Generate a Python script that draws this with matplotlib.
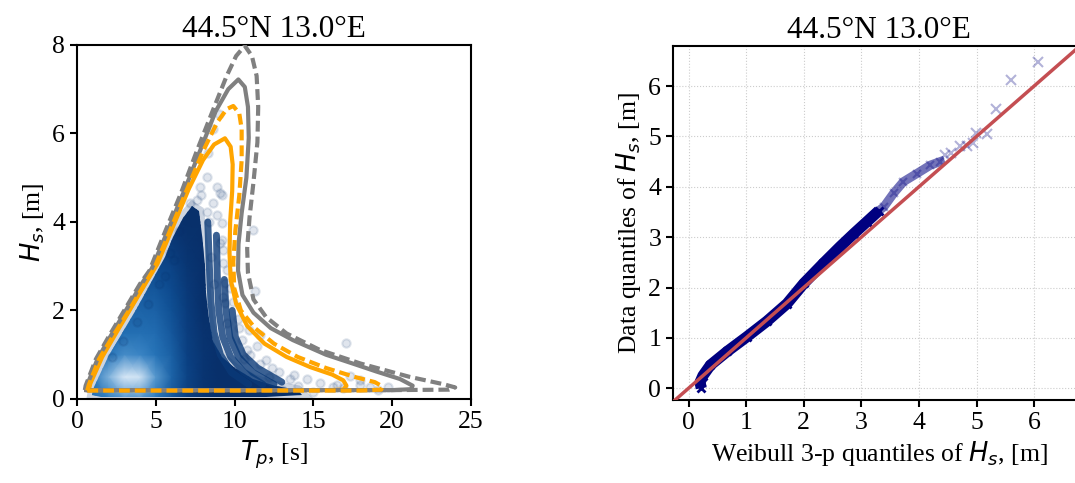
import matplotlib
matplotlib.use("Agg")
import matplotlib.pyplot as plt
from matplotlib.colors import LinearSegmentedColormap
from matplotlib.patches import Polygon
import numpy as np

plt.rcParams['font.family'] = ['Liberation Serif', 'DejaVu Serif']
plt.rcParams['mathtext.fontset'] = 'dejavusans'
plt.rcParams['axes.linewidth'] = 1.5

# --- left panel: environmental contours (Tp, Hs) ---
gd_tp = [0.5, 0.55, 1.2, 2.0, 3.0, 4.0, 4.6, 5.5, 6.6, 7.6, 8.6, 9.5, 10.1, 10.65,
         11.1, 11.4, 11.5, 11.45, 11.2, 10.95, 10.8, 10.85, 11.2, 12.0, 13.3, 15.4,
         18.0, 21.1, 23.3, 24.0, 23.6, 20.0, 10.0, 0.5]
gd_hs = [0.2, 0.3, 0.9, 1.4, 2.0, 2.6, 2.9, 3.7, 4.65, 5.6, 6.5, 7.3, 7.75, 7.98,
         7.75, 7.3, 6.6, 5.8, 4.9, 4.1, 3.4, 2.85, 2.25, 1.85, 1.48, 1.11,
         0.80, 0.50, 0.33, 0.26, 0.21, 0.2, 0.2, 0.2]

gs_tp = [0.6, 0.65, 1.3, 2.1, 3.1, 4.1, 4.75, 5.7, 6.8, 7.8, 8.8, 9.6, 10.24,
         10.65, 10.85, 10.9, 10.75, 10.45, 10.25, 10.22, 10.5, 11.2, 12.3, 13.7,
         15.8, 17.5, 19.0, 20.5, 21.3, 21.2, 20.0, 0.6]
gs_hs = [0.2, 0.32, 0.9, 1.4, 2.0, 2.6, 2.95, 3.75, 4.7, 5.6, 6.5, 7.0, 7.22,
         7.05, 6.6, 5.9, 5.0, 4.2, 3.5, 2.9, 2.35, 1.95, 1.6, 1.33,
         1.0, 0.8, 0.62, 0.45, 0.3, 0.22, 0.2, 0.2]

od_tp = [0.65, 0.75, 1.4, 2.25, 3.3, 4.3, 4.9, 5.9, 7.0, 8.0, 8.9, 9.5, 9.92,
         10.3, 10.45, 10.45, 10.3, 10.05, 9.92, 9.98, 10.4, 11.3, 12.5, 14.0,
         15.8, 17.6, 18.9, 19.4, 19.3, 18.0, 0.65]
od_hs = [0.19, 0.32, 0.9, 1.4, 2.0, 2.6, 2.95, 3.8, 4.75, 5.6, 6.25, 6.55, 6.62,
         6.45, 6.1, 5.4, 4.6, 3.8, 3.1, 2.5, 2.0, 1.6, 1.25, 0.95,
         0.7, 0.5, 0.38, 0.28, 0.21, 0.19, 0.19]

os_tp = [0.75, 0.85, 1.6, 2.5, 3.5, 4.5, 5.1, 6.1, 7.1, 8.0, 8.7, 9.39,
         9.75, 9.88, 9.85, 9.72, 9.68, 9.75, 10.1, 10.8, 11.9, 13.3, 14.8,
         16.2, 16.9, 17.1, 16.9, 16.0, 0.75]
os_hs = [0.2, 0.35, 0.95, 1.5, 2.1, 2.7, 3.05, 3.9, 4.75, 5.4, 5.75, 5.89,
         5.7, 5.3, 4.7, 4.0, 3.3, 2.7, 2.15, 1.65, 1.25, 0.95, 0.72,
         0.55, 0.42, 0.3, 0.21, 0.2, 0.2]

# outline of the dense part of the scatter cloud
body_tp = [0.95, 1.05, 1.5, 2.0, 2.8, 3.8, 4.9, 5.6, 6.1, 6.7, 7.3, 7.75, 7.95,
           8.1, 8.2, 8.35, 8.65, 9.2, 10.0, 11.2, 12.6, 14.0, 14.3, 12.0, 8.0,
           4.0, 1.5]
body_hs = [0.08, 0.28, 0.62, 0.95, 1.45, 2.05, 2.75, 3.2, 3.65, 4.1, 4.35, 4.25,
           3.7, 3.0, 2.4, 1.8, 1.3, 0.95, 0.7, 0.45, 0.3, 0.2, 0.1, 0.05, 0.04,
           0.05, 0.05]

# lightness of the cloud colour (density), rows = Hs, columns = Tp
grid_tp = [0, 1, 2, 3, 4, 5, 6, 7, 8, 9, 10, 15]
grid_hs = [0, 0.5, 1.0, 1.5, 2.0, 2.5, 3.0, 3.5, 4.0, 4.5]
grid_val = [
    [0.35, 0.42, 0.50, 0.57, 0.57, 0.47, 0.32, 0.15, 0.05, 0.0, 0.0, 0.0],
    [0.38, 0.48, 0.65, 0.90, 0.86, 0.58, 0.38, 0.18, 0.05, 0.0, 0.0, 0.0],
    [0.33, 0.40, 0.47, 0.55, 0.53, 0.46, 0.36, 0.16, 0.05, 0.0, 0.0, 0.0],
    [0.28, 0.33, 0.38, 0.43, 0.44, 0.42, 0.32, 0.14, 0.03, 0.0, 0.0, 0.0],
    [0.22, 0.27, 0.32, 0.37, 0.38, 0.37, 0.28, 0.12, 0.0, 0.0, 0.0, 0.0],
    [0.18, 0.22, 0.27, 0.31, 0.32, 0.31, 0.24, 0.09, 0.0, 0.0, 0.0, 0.0],
    [0.12, 0.14, 0.18, 0.23, 0.24, 0.24, 0.18, 0.06, 0.0, 0.0, 0.0, 0.0],
    [0.0, 0.0, 0.08, 0.12, 0.13, 0.13, 0.10, 0.03, 0.0, 0.0, 0.0, 0.0],
    [0.0, 0.0, 0.0, 0.0, 0.0, 0.05, 0.03, 0.0, 0.0, 0.0, 0.0, 0.0],
    [0.0, 0.0, 0.0, 0.0, 0.0, 0.0, 0.0, 0.0, 0.0, 0.0, 0.0, 0.0],
]

# streaks right of the dense part (discrete Tp bins)
streak1_tp = [8.3, 8.4, 8.5, 8.7, 9.1, 9.8, 10.9]
streak1_hs = [4.0, 3.0, 2.2, 1.5, 1.0, 0.6, 0.33]
streak2_tp = [8.85, 8.9, 9.0, 9.25, 9.75, 10.6, 11.8]
streak2_hs = [3.7, 2.8, 2.0, 1.4, 0.95, 0.6, 0.33]
streak3_tp = [9.35, 9.45, 9.7, 10.25, 11.15, 12.5]
streak3_hs = [2.7, 2.0, 1.4, 0.95, 0.6, 0.33]
streak4_tp = [9.85, 10.05, 10.55, 11.45, 13.0]
streak4_hs = [2.0, 1.4, 1.0, 0.7, 0.38]

# isolated sea states
pts_tp = [8.23, 8.86, 9.18, 8.65, 8.23, 8.86, 9.18, 9.07, 9.28, 9.28, 9.50, 9.39,
          9.28, 9.39, 11.3, 11.19, 17.1, 11.6, 12.0, 14.6, 15.4, 16.5, 17.96, 9.5,
          10.45, 10.77, 11.6, 7.82, 7.19, 6.98, 6.13, 5.6, 9.09, 9.2, 17.3, 17.95,
          18.6, 19.1, 19.75, 16.26, 16.9, 12.8, 13.5, 11.0, 10.2, 9.9, 8.5, 8.7,
          7.9, 7.6, 8.4, 10.6, 13.0, 14.0, 15.0, 12.2, 9.0, 8.6, 8.3, 5.2, 4.5,
          3.8, 2.9, 2.2, 5.9, 6.5, 10.9, 11.4, 12.4, 13.8, 9.7, 10.3]
pts_hs = [5.02, 4.80, 4.61, 4.42, 4.23, 4.16, 3.97, 3.52, 3.37, 3.07, 2.92, 2.62,
          2.31, 2.16, 2.43, 3.82, 1.26, 1.44, 0.88, 0.46, 0.35, 0.32, 0.32, 1.71,
          1.33, 1.11, 0.80, 4.8, 4.42, 4.05, 3.14, 2.77, 4.65, 3.59, 0.51, 0.43,
          0.28, 0.2, 0.28, 0.28, 0.24, 0.6, 0.45, 1.0, 1.8, 2.2, 3.2, 2.6,
          4.6, 4.5, 4.0, 0.9, 0.2, 0.3, 0.15, 0.5, 6.45, 6.1, 5.55, 2.6, 2.15,
          1.75, 1.3, 0.95, 3.3, 3.8, 1.55, 1.2, 0.7, 0.55, 2.5, 1.6]

# --- right panel: QQ plot, Weibull 3-p quantiles vs data quantiles ---
qq_theo = [0.22, 0.20, 0.25, 0.38, 0.67, 1.01, 1.36, 1.71, 2.00, 2.34, 2.63, 2.87, 3.10, 3.30]
qq_data = [0.00, 0.12, 0.25, 0.46, 0.73, 1.02, 1.33, 1.68, 2.08, 2.48, 2.81, 3.07, 3.31, 3.52]
qq_up_theo = [3.30, 3.39, 3.56, 3.73, 3.96, 4.20, 4.37]
qq_up_data = [3.52, 3.60, 3.87, 4.10, 4.26, 4.43, 4.50]
qq_tail_theo = [4.46, 4.55, 4.72, 4.83, 4.94, 4.99, 5.18, 5.34, 5.60, 6.07]
qq_tail_data = [4.64, 4.68, 4.80, 4.80, 4.86, 5.07, 5.05, 5.55, 6.12, 6.47]

title = '44.5°N 13.0°E'

fig = plt.figure(figsize=(10.75, 4.83), dpi=100)
ax1 = fig.add_axes([0.0716, 0.174, 0.3665, 0.733])
ax2 = fig.add_axes([0.626, 0.172, 0.3835, 0.733])

# cloud body with density shading
cmap = LinearSegmentedColormap.from_list(
    'cloud', ['#08306b', '#0d4a8f', '#2b7bbf', '#b5d4ee', '#eef5fc'])
body = Polygon(np.column_stack([body_tp, body_hs]), closed=True,
               facecolor='none', edgecolor='#08306b', lw=7, alpha=0.2, zorder=1)
ax1.add_patch(body)
mesh = ax1.pcolormesh(grid_tp, grid_hs, np.array(grid_val), cmap=cmap,
                      vmin=0, vmax=1, shading='gouraud', zorder=1)
mesh.set_clip_path(body)

for stp, shs in [(streak1_tp, streak1_hs), (streak2_tp, streak2_hs),
                 (streak3_tp, streak3_hs), (streak4_tp, streak4_hs)]:
    ax1.plot(stp, shs, color='#0a3a78', lw=5, alpha=0.8,
             solid_capstyle='round', zorder=1)

ax1.scatter(pts_tp, pts_hs, s=36, color='#08306b', alpha=0.12,
            linewidths=1.5, zorder=2)

dash = (0, (2.6, 1.2))
ax1.plot(os_tp, os_hs, color='orange', lw=3, zorder=3)
ax1.plot(gs_tp, gs_hs, color='gray', lw=3, zorder=3)
ax1.plot(gd_tp, gd_hs, color='gray', lw=3, ls=dash, zorder=3)
ax1.plot(od_tp, od_hs, color='orange', lw=3, ls=dash, zorder=3)

ax1.set_xlim(0, 25)
ax1.set_ylim(0, 8)
ax1.set_xticks([0, 5, 10, 15, 20, 25])
ax1.set_yticks([0, 2, 4, 6, 8])
ax1.set_xlabel('$T_p$, [s]', fontsize=18.5)
ax1.set_ylabel('$H_s$, [m]', fontsize=18.5)
ax1.set_title(title, fontsize=22.5)

# QQ panel
ax2.grid(True, ls=':', color='#cccccc', lw=0.8)
ax2.set_axisbelow(True)
ax2.plot(qq_theo, qq_data, color='navy', lw=8, solid_capstyle='butt', zorder=2)
ax2.plot(qq_theo, qq_data, 'x', color='navy', ms=6, mew=2, zorder=2)
ax2.plot(qq_up_theo, qq_up_data, color='navy', lw=6.5, alpha=0.55, zorder=2)
ax2.plot(qq_up_theo, qq_up_data, 'x', color='navy', ms=6, mew=1.5, alpha=0.3, zorder=2)
ax2.plot(qq_tail_theo, qq_tail_data, 'x', color='navy', ms=7, mew=1.5,
         alpha=0.3, zorder=2)
ax2.axline((0, 0), (1, 1), color='#c44e52', lw=2.5, zorder=3)

ax2.set_xlim(-0.271, 6.887)
ax2.set_ylim(-0.232, 6.797)
ax2.set_xticks(range(7))
ax2.set_yticks(range(7))
ax2.spines['right'].set_visible(False)
ax2.set_xlabel('Weibull 3-p quantiles of $H_s$, [m]', fontsize=18.5)
ax2.set_ylabel('Data quantiles of $H_s$, [m]', fontsize=18.5)
ax2.set_title(title, fontsize=22.5)

for ax in (ax1, ax2):
    ax.tick_params(labelsize=18.5, width=1.5, length=5)

plt.savefig('out.png', dpi=100)
plt.close()
